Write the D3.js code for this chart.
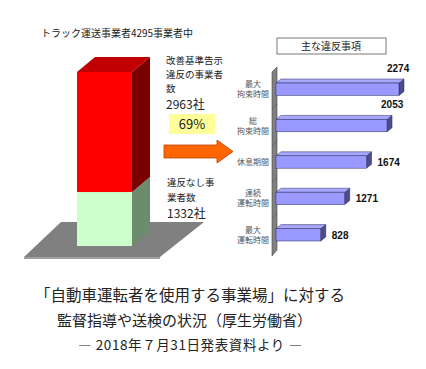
<!DOCTYPE html>
<html>
<head>
<meta charset="utf-8">
<script src="https://cdn.jsdelivr.net/npm/d3@7"></script>
<style>
  body { margin: 0; background: #fff; }
  svg text { font-family: "Noto Sans CJK JP", "DejaVu Sans", sans-serif; }
</style>
</head>
<body>
<div id="chart"></div>
<script>
// 左の積み上げ柱（事業者数）
const totalCompanies = 4295;
const stackNames = ["違反なし", "違反あり"];
const stackValues = [1332, 2963];
const violationRate = "69%";

// 右の横棒（主な違反事項）
const barCategories = [["最大", "拘束時間"], ["総", "拘束時間"], ["休息期間"], ["連続", "運転時間"], ["最大", "運転時間"]];
const barValues = [2274, 2053, 1674, 1271, 828];

const width = 426, height = 369;

const svg = d3.select("#chart")
    .append("svg")
    .attr("width", width)
    .attr("height", height);

// ---- 左側 3D 柱 ----
const colX = 77, colW = 55, dx = 18, dy = -15;
const yCol = d3.scaleLinear().domain([0, totalCompanies]).range([246, 72]);

// 床
svg.append("polygon")
    .attr("points", "24,257 160,257 204,222 61,222")
    .attr("fill", "#808080");
svg.append("polygon")
    .attr("points", "24,257 160,257 160,259 24,259")
    .attr("fill", "#a0a0a0");

const colColors = [
    { front: "#ccffcc", side: "#6d8b6d", top: "#a8d8a8" },
    { front: "#ff0000", side: "#7a0000", top: "#c00000" }
];

let acc = 0;
stackValues.forEach((v, i) => {
    const y0 = yCol(acc), y1 = yCol(acc + v);
    acc += v;
    const c = colColors[i];
    // 側面
    svg.append("polygon")
        .attr("points", `${colX + colW},${y1} ${colX + colW + dx},${y1 + dy} ${colX + colW + dx},${y0 + dy} ${colX + colW},${y0}`)
        .attr("fill", c.side);
    // 前面
    svg.append("rect")
        .attr("x", colX).attr("y", y1)
        .attr("width", colW).attr("height", y0 - y1)
        .attr("fill", c.front);
    // 上面（一番上だけ）
    if (i === stackValues.length - 1) {
        svg.append("polygon")
            .attr("points", `${colX},${y1} ${colX + dx},${y1 + dy} ${colX + colW + dx},${y1 + dy} ${colX + colW},${y1}`)
            .attr("fill", c.top);
    }
});

svg.append("text")
    .attr("x", 117).attr("y", 37)
    .attr("text-anchor", "middle")
    .style("font-size", "10px").style("fill", "#222")
    .text(`トラック運送事業者${totalCompanies}事業者中`);

// ラベル
function lines(x, ys, texts, sizes) {
    texts.forEach((t, i) => {
        svg.append("text")
            .attr("x", x).attr("y", ys[i])
            .style("font-size", sizes[i] + "px").style("fill", "#222")
            .text(t);
    });
}
lines(166, [64, 78, 92, 109], ["改善基準告示", "違反の事業者", "数", `${stackValues[1]}社`], [9.5, 9.5, 9.5, 12]);
lines(167, [186, 201, 218], ["違反なし事", "業者数", `${stackValues[0]}社`], [9.5, 9.5, 12]);

// 69% の黄色ボックス
svg.append("rect")
    .attr("x", 169).attr("y", 114).attr("width", 46).attr("height", 20)
    .attr("fill", "#ffff99");
svg.append("text")
    .attr("x", 192).attr("y", 129)
    .attr("text-anchor", "middle")
    .style("font-size", "13px").style("fill", "#222")
    .text(violationRate);

// オレンジ矢印
svg.append("polygon")
    .attr("points", "164,145 217,145 217,140 233,151.5 217,163 217,158 164,158")
    .attr("fill", "#ff6600")
    .attr("stroke", "#c04000")
    .attr("stroke-width", 0.8);

// ---- 右側 横棒 ----
const x = d3.scaleLinear().domain([0, 2274]).range([276, 399]);
const y = d3.scaleBand()
    .domain(d3.range(barValues.length))
    .range([71, 253])
    .paddingInner(0.66)
    .paddingOuter(0.33);
const bdx = 5, bdy = -4;

// 見出し
svg.append("rect")
    .attr("x", 277).attr("y", 38).attr("width", 109).attr("height", 16)
    .attr("fill", "#fff").attr("stroke", "#555").attr("stroke-width", 0.8);
svg.append("text")
    .attr("x", 331).attr("y", 50)
    .attr("text-anchor", "middle")
    .style("font-size", "10px").style("fill", "#222")
    .text("主な違反事項");

// 壁
svg.append("polygon")
    .attr("points", "272,72 277,67 277,250 272,256")
    .attr("fill", "#808080")
    .attr("stroke", "#444").attr("stroke-width", 0.6);
y.domain().forEach(i => {
    const yy = y(i) - (y.step() - y.bandwidth()) / 2;
    if (i > 0) {
        svg.append("line")
            .attr("x1", 272).attr("x2", 277)
            .attr("y1", yy + 2).attr("y2", yy - 3)
            .attr("stroke", "#555").attr("stroke-width", 0.6);
    }
});

const bars = svg.selectAll(".bar")
    .data(barValues)
    .enter()
    .append("g")
    .attr("class", "bar");

bars.append("polygon")
    .attr("points", (d, i) => {
        const x1 = x(d), y0 = y(i), h = y.bandwidth();
        return `${x1},${y0} ${x1 + bdx},${y0 + bdy} ${x1 + bdx},${y0 + h + bdy} ${x1},${y0 + h}`;
    })
    .attr("fill", "#4c4c8c").attr("stroke", "#2a2a5a").attr("stroke-width", 0.5);
bars.append("polygon")
    .attr("points", (d, i) => {
        const x0 = x(0), x1 = x(d), y0 = y(i);
        return `${x0},${y0} ${x0 + bdx},${y0 + bdy} ${x1 + bdx},${y0 + bdy} ${x1},${y0}`;
    })
    .attr("fill", "#a8a8ff").attr("stroke", "#2a2a5a").attr("stroke-width", 0.5);
bars.append("rect")
    .attr("x", x(0))
    .attr("y", (d, i) => y(i))
    .attr("width", d => x(d) - x(0))
    .attr("height", y.bandwidth())
    .attr("fill", "#9999ff").attr("stroke", "#2a2a5a").attr("stroke-width", 0.5);

// 値ラベル
bars.append("text")
    .attr("x", (d, i) => d > 2000 ? x(d) - (i === 0 ? 12 : 6) : x(d) + 11)
    .attr("y", (d, i) => d > 2000 ? y(i) - 11 : y(i) + y.bandwidth() / 2 + 4)
    .style("font-family", "'Liberation Sans', Arial, sans-serif")
    .style("font-size", "10px").style("font-weight", "bold").style("fill", "#111")
    .text(d => d);

// 項目ラベル
barCategories.forEach((c, i) => {
    const cy = y(i) + y.bandwidth() / 2;
    const t = svg.append("text")
        .attr("text-anchor", "middle")
        .style("font-size", "8px").style("fill", "#555");
    c.forEach((s, j) => {
        t.append("tspan")
            .attr("x", 253)
            .attr("y", cy + 3 + (j - (c.length - 1) / 2) * 10)
            .text(s);
    });
});

// ---- 下部タイトル ----
svg.append("text")
    .attr("x", 35).attr("y", 301)
    .style("font-size", "15.5px").style("fill", "#222")
    .text("「自動車運転者を使用する事業場」に対する");
svg.append("text")
    .attr("x", 57).attr("y", 326)
    .style("font-size", "15px").style("fill", "#222")
    .text("監督指導や送検の状況（厚生労働省）");
svg.append("text")
    .attr("x", 78).attr("y", 350)
    .style("font-size", "13.5px").style("fill", "#222")
    .attr("textLength", 224)
    .attr("lengthAdjust", "spacing")
    .text("― 2018年７月31日発表資料より ―");
</script>
</body>
</html>
